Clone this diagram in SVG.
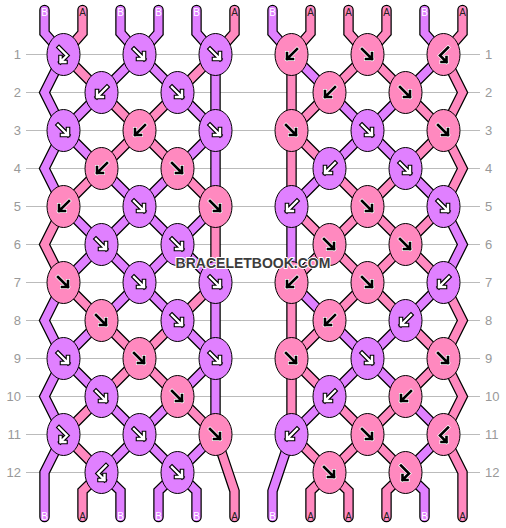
<svg xmlns="http://www.w3.org/2000/svg" xmlns:xlink="http://www.w3.org/1999/xlink" width="506" height="528" viewBox="0 0 506 528">
<style>
.guide{stroke:#bbb;stroke-width:1}
.rl{font-family:"Liberation Sans",Arial,sans-serif;font-size:13px;fill:#999}
.rll{text-anchor:end}
.ol{fill:none;stroke:#000;stroke-width:10.5;stroke-linecap:round;stroke-linejoin:miter}
.cB{fill:none;stroke:#E080FF;stroke-width:8;stroke-linecap:round;stroke-linejoin:miter}
.cA{fill:none;stroke:#FF89BF;stroke-width:8;stroke-linecap:round;stroke-linejoin:miter}
.kB{fill:#E080FF;stroke:#000;stroke-width:1}
.kA{fill:#FF89BF;stroke:#000;stroke-width:1}
.ao-b{fill:none;stroke:#000;stroke-width:4.6;stroke-linecap:square;stroke-linejoin:miter}
.ai-w{fill:none;stroke:#fff;stroke-width:2.4;stroke-linecap:square;stroke-linejoin:miter}
.ao-w{fill:none;stroke:#fff;stroke-width:4;stroke-linecap:square;stroke-linejoin:miter}
.ai-b{fill:none;stroke:#000;stroke-width:2.6;stroke-linecap:square;stroke-linejoin:miter}
.tl{font-family:"Liberation Sans",Arial,sans-serif;font-size:10px;text-anchor:middle}
.tlB{fill:#fff}
.tlA{fill:#222}
.wm{font-family:"Liberation Sans",Arial,sans-serif;font-size:14px;font-weight:bold;text-anchor:middle;fill:#3c3c3c;stroke:#fff;stroke-width:2;paint-order:stroke;stroke-linejoin:round}
</style>
<defs>
<path id="p-se" d="M-5.5,-5.5 L4.5,4.5 M4.5,-1.5 L4.5,4.5 L-1.5,4.5"/>
<path id="p-sw" d="M5.5,-5.5 L-4.5,4.5 M-4.5,-1.5 L-4.5,4.5 L1.5,4.5"/>
<path id="p-fb" d="M-4.5,-7 L3.5,1 L-3,7.5 M-3,2.5 L-3,7.5 L2,7.5"/>
<path id="p-bf" d="M4.5,-7 L-3.5,1 L3,7.5 M3,2.5 L3,7.5 L-2,7.5"/>
<g id="w-se"><use href="#p-se" class="ao-b"/><use href="#p-se" class="ai-w"/></g>
<g id="w-sw"><use href="#p-sw" class="ao-b"/><use href="#p-sw" class="ai-w"/></g>
<g id="w-fb"><use href="#p-fb" class="ao-b"/><use href="#p-fb" class="ai-w"/></g>
<g id="w-bf"><use href="#p-bf" class="ao-b"/><use href="#p-bf" class="ai-w"/></g>
<g id="b-se"><use href="#p-se" class="ao-w"/><use href="#p-se" class="ai-b"/></g>
<g id="b-sw"><use href="#p-sw" class="ao-w"/><use href="#p-sw" class="ai-b"/></g>
<g id="b-fb"><use href="#p-fb" class="ao-w"/><use href="#p-fb" class="ai-b"/></g>
<g id="b-bf"><use href="#p-bf" class="ao-w"/><use href="#p-bf" class="ai-b"/></g>
<polyline id="tL0" points="44.5,10 44.5,33 63.5,54.5 44.5,92.5 63.5,130.5 101.5,168.5 139.5,206.5 177.5,244.5 215.5,282.5 215.5,320.5 215.5,358.5 177.5,396.5 139.5,434.5 101.5,472.5 120.5,491 120.5,517"/>
<polyline id="tL1" points="82.5,10 82.5,33 63.5,54.5 101.5,92.5 139.5,130.5 177.5,168.5 215.5,206.5 215.5,244.5 215.5,282.5 177.5,320.5 139.5,358.5 101.5,396.5 63.5,434.5 101.5,472.5 82.5,491 82.5,517"/>
<polyline id="tL2" points="120.5,10 120.5,33 139.5,54.5 177.5,92.5 215.5,130.5 215.5,168.5 215.5,206.5 177.5,244.5 139.5,282.5 101.5,320.5 63.5,358.5 44.5,396.5 63.5,434.5 44.5,472.5 44.5,517"/>
<polyline id="tL3" points="158.5,10 158.5,33 139.5,54.5 101.5,92.5 63.5,130.5 44.5,168.5 63.5,206.5 101.5,244.5 139.5,282.5 177.5,320.5 215.5,358.5 215.5,396.5 215.5,434.5 177.5,472.5 158.5,491 158.5,517"/>
<polyline id="tL4" points="196.5,10 196.5,33 215.5,54.5 215.5,92.5 215.5,130.5 177.5,168.5 139.5,206.5 101.5,244.5 63.5,282.5 44.5,320.5 63.5,358.5 101.5,396.5 139.5,434.5 177.5,472.5 196.5,491 196.5,517"/>
<polyline id="tL5" points="234.5,10 234.5,33 215.5,54.5 177.5,92.5 139.5,130.5 101.5,168.5 63.5,206.5 44.5,244.5 63.5,282.5 101.5,320.5 139.5,358.5 177.5,396.5 215.5,434.5 234.5,491 234.5,517"/>
<polyline id="tR0" points="272.5,10 272.5,33 291.5,54.5 329.5,92.5 367.5,130.5 405.5,168.5 443.5,206.5 462.5,244.5 443.5,282.5 405.5,320.5 367.5,358.5 329.5,396.5 291.5,434.5 272.5,491 272.5,517"/>
<polyline id="tR1" points="310.5,10 310.5,33 291.5,54.5 291.5,92.5 291.5,130.5 329.5,168.5 367.5,206.5 405.5,244.5 443.5,282.5 462.5,320.5 443.5,358.5 405.5,396.5 367.5,434.5 329.5,472.5 310.5,491 310.5,517"/>
<polyline id="tR2" points="348.5,10 348.5,33 367.5,54.5 405.5,92.5 443.5,130.5 462.5,168.5 443.5,206.5 405.5,244.5 367.5,282.5 329.5,320.5 291.5,358.5 291.5,396.5 291.5,434.5 329.5,472.5 348.5,491 348.5,517"/>
<polyline id="tR3" points="386.5,10 386.5,33 367.5,54.5 329.5,92.5 291.5,130.5 291.5,168.5 291.5,206.5 329.5,244.5 367.5,282.5 405.5,320.5 443.5,358.5 462.5,396.5 443.5,434.5 462.5,472.5 462.5,517"/>
<polyline id="tR4" points="424.5,10 424.5,33 443.5,54.5 405.5,92.5 367.5,130.5 329.5,168.5 291.5,206.5 291.5,244.5 291.5,282.5 329.5,320.5 367.5,358.5 405.5,396.5 443.5,434.5 405.5,472.5 424.5,491 424.5,517"/>
<polyline id="tR5" points="462.5,10 462.5,33 443.5,54.5 462.5,92.5 443.5,130.5 405.5,168.5 367.5,206.5 329.5,244.5 291.5,282.5 291.5,320.5 291.5,358.5 329.5,396.5 367.5,434.5 405.5,472.5 386.5,491 386.5,517"/>
</defs>
<rect width="506" height="528" fill="#fff"/>
<g id="guides">
<line class="guide" x1="26" y1="54.5" x2="480" y2="54.5"/>
<line class="guide" x1="26" y1="92.5" x2="480" y2="92.5"/>
<line class="guide" x1="26" y1="130.5" x2="480" y2="130.5"/>
<line class="guide" x1="26" y1="168.5" x2="480" y2="168.5"/>
<line class="guide" x1="26" y1="206.5" x2="480" y2="206.5"/>
<line class="guide" x1="26" y1="244.5" x2="480" y2="244.5"/>
<line class="guide" x1="26" y1="282.5" x2="480" y2="282.5"/>
<line class="guide" x1="26" y1="320.5" x2="480" y2="320.5"/>
<line class="guide" x1="26" y1="358.5" x2="480" y2="358.5"/>
<line class="guide" x1="26" y1="396.5" x2="480" y2="396.5"/>
<line class="guide" x1="26" y1="434.5" x2="480" y2="434.5"/>
<line class="guide" x1="26" y1="472.5" x2="480" y2="472.5"/>
</g>
<g id="row-labels">
<text class="rl rll" x="21" y="59">1</text><text class="rl" x="485" y="59">1</text>
<text class="rl rll" x="21" y="97">2</text><text class="rl" x="485" y="97">2</text>
<text class="rl rll" x="21" y="135">3</text><text class="rl" x="485" y="135">3</text>
<text class="rl rll" x="21" y="173">4</text><text class="rl" x="485" y="173">4</text>
<text class="rl rll" x="21" y="211">5</text><text class="rl" x="485" y="211">5</text>
<text class="rl rll" x="21" y="249">6</text><text class="rl" x="485" y="249">6</text>
<text class="rl rll" x="21" y="287">7</text><text class="rl" x="485" y="287">7</text>
<text class="rl rll" x="21" y="325">8</text><text class="rl" x="485" y="325">8</text>
<text class="rl rll" x="21" y="363">9</text><text class="rl" x="485" y="363">9</text>
<text class="rl rll" x="21" y="401">10</text><text class="rl" x="485" y="401">10</text>
<text class="rl rll" x="21" y="439">11</text><text class="rl" x="485" y="439">11</text>
<text class="rl rll" x="21" y="477">12</text><text class="rl" x="485" y="477">12</text>
</g>
<g id="connectors">
<use href="#tL0" class="ol"/><use href="#tL1" class="ol"/><use href="#tL2" class="ol"/><use href="#tL3" class="ol"/><use href="#tL4" class="ol"/><use href="#tL5" class="ol"/>
<use href="#tR0" class="ol"/><use href="#tR1" class="ol"/><use href="#tR2" class="ol"/><use href="#tR3" class="ol"/><use href="#tR4" class="ol"/><use href="#tR5" class="ol"/>
<use href="#tL0" class="cB"/><use href="#tL1" class="cA"/><use href="#tL2" class="cB"/><use href="#tL3" class="cB"/><use href="#tL4" class="cB"/><use href="#tL5" class="cA"/>
<use href="#tR0" class="cB"/><use href="#tR1" class="cA"/><use href="#tR2" class="cA"/><use href="#tR3" class="cA"/><use href="#tR4" class="cB"/><use href="#tR5" class="cA"/>
</g>
<g id="thread-labels">
<text class="tl tlB" x="44.5" y="16">B</text><text class="tl tlA" x="82.5" y="16">A</text><text class="tl tlB" x="120.5" y="16">B</text><text class="tl tlB" x="158.5" y="16">B</text><text class="tl tlB" x="196.5" y="16">B</text><text class="tl tlA" x="234.5" y="16">A</text>
<text class="tl tlB" x="272.5" y="16">B</text><text class="tl tlA" x="310.5" y="16">A</text><text class="tl tlA" x="348.5" y="16">A</text><text class="tl tlA" x="386.5" y="16">A</text><text class="tl tlB" x="424.5" y="16">B</text><text class="tl tlA" x="462.5" y="16">A</text>
<text class="tl tlB" x="44.5" y="520">B</text><text class="tl tlA" x="82.5" y="520">A</text><text class="tl tlB" x="120.5" y="520">B</text><text class="tl tlB" x="158.5" y="520">B</text><text class="tl tlB" x="196.5" y="520">B</text><text class="tl tlA" x="234.5" y="520">A</text>
<text class="tl tlB" x="272.5" y="520">B</text><text class="tl tlA" x="310.5" y="520">A</text><text class="tl tlA" x="348.5" y="520">A</text><text class="tl tlA" x="386.5" y="520">A</text><text class="tl tlB" x="424.5" y="520">B</text><text class="tl tlA" x="462.5" y="520">A</text>
</g>
<g id="L-r1-k1"><ellipse class="kB" cx="63.5" cy="54.5" rx="16.5" ry="21"/><use href="#w-fb" x="63.5" y="54.5"/></g>
<g id="L-r1-k2"><ellipse class="kB" cx="139.5" cy="54.5" rx="16.5" ry="21"/><use href="#w-se" x="139.5" y="54.5"/></g>
<g id="L-r1-k3"><ellipse class="kB" cx="215.5" cy="54.5" rx="16.5" ry="21"/><use href="#w-se" x="215.5" y="54.5"/></g>
<g id="L-r2-k1"><ellipse class="kB" cx="101.5" cy="92.5" rx="16.5" ry="21"/><use href="#w-sw" x="101.5" y="92.5"/></g>
<g id="L-r2-k2"><ellipse class="kB" cx="177.5" cy="92.5" rx="16.5" ry="21"/><use href="#w-se" x="177.5" y="92.5"/></g>
<g id="L-r3-k1"><ellipse class="kB" cx="63.5" cy="130.5" rx="16.5" ry="21"/><use href="#w-se" x="63.5" y="130.5"/></g>
<g id="L-r3-k2"><ellipse class="kA" cx="139.5" cy="130.5" rx="16.5" ry="21"/><use href="#b-sw" x="139.5" y="130.5"/></g>
<g id="L-r3-k3"><ellipse class="kB" cx="215.5" cy="130.5" rx="16.5" ry="21"/><use href="#w-se" x="215.5" y="130.5"/></g>
<g id="L-r4-k1"><ellipse class="kA" cx="101.5" cy="168.5" rx="16.5" ry="21"/><use href="#b-sw" x="101.5" y="168.5"/></g>
<g id="L-r4-k2"><ellipse class="kA" cx="177.5" cy="168.5" rx="16.5" ry="21"/><use href="#b-se" x="177.5" y="168.5"/></g>
<g id="L-r5-k1"><ellipse class="kA" cx="63.5" cy="206.5" rx="16.5" ry="21"/><use href="#b-sw" x="63.5" y="206.5"/></g>
<g id="L-r5-k2"><ellipse class="kB" cx="139.5" cy="206.5" rx="16.5" ry="21"/><use href="#w-se" x="139.5" y="206.5"/></g>
<g id="L-r5-k3"><ellipse class="kA" cx="215.5" cy="206.5" rx="16.5" ry="21"/><use href="#b-se" x="215.5" y="206.5"/></g>
<g id="L-r6-k1"><ellipse class="kB" cx="101.5" cy="244.5" rx="16.5" ry="21"/><use href="#w-se" x="101.5" y="244.5"/></g>
<g id="L-r6-k2"><ellipse class="kB" cx="177.5" cy="244.5" rx="16.5" ry="21"/><use href="#w-se" x="177.5" y="244.5"/></g>
<g id="L-r7-k1"><ellipse class="kA" cx="63.5" cy="282.5" rx="16.5" ry="21"/><use href="#b-se" x="63.5" y="282.5"/></g>
<g id="L-r7-k2"><ellipse class="kB" cx="139.5" cy="282.5" rx="16.5" ry="21"/><use href="#w-se" x="139.5" y="282.5"/></g>
<g id="L-r7-k3"><ellipse class="kB" cx="215.5" cy="282.5" rx="16.5" ry="21"/><use href="#w-se" x="215.5" y="282.5"/></g>
<g id="L-r8-k1"><ellipse class="kA" cx="101.5" cy="320.5" rx="16.5" ry="21"/><use href="#b-se" x="101.5" y="320.5"/></g>
<g id="L-r8-k2"><ellipse class="kB" cx="177.5" cy="320.5" rx="16.5" ry="21"/><use href="#w-se" x="177.5" y="320.5"/></g>
<g id="L-r9-k1"><ellipse class="kB" cx="63.5" cy="358.5" rx="16.5" ry="21"/><use href="#w-se" x="63.5" y="358.5"/></g>
<g id="L-r9-k2"><ellipse class="kA" cx="139.5" cy="358.5" rx="16.5" ry="21"/><use href="#b-se" x="139.5" y="358.5"/></g>
<g id="L-r9-k3"><ellipse class="kB" cx="215.5" cy="358.5" rx="16.5" ry="21"/><use href="#w-se" x="215.5" y="358.5"/></g>
<g id="L-r10-k1"><ellipse class="kB" cx="101.5" cy="396.5" rx="16.5" ry="21"/><use href="#w-se" x="101.5" y="396.5"/></g>
<g id="L-r10-k2"><ellipse class="kA" cx="177.5" cy="396.5" rx="16.5" ry="21"/><use href="#b-se" x="177.5" y="396.5"/></g>
<g id="L-r11-k1"><ellipse class="kB" cx="63.5" cy="434.5" rx="16.5" ry="21"/><use href="#w-fb" x="63.5" y="434.5"/></g>
<g id="L-r11-k2"><ellipse class="kB" cx="139.5" cy="434.5" rx="16.5" ry="21"/><use href="#w-se" x="139.5" y="434.5"/></g>
<g id="L-r11-k3"><ellipse class="kA" cx="215.5" cy="434.5" rx="16.5" ry="21"/><use href="#b-se" x="215.5" y="434.5"/></g>
<g id="L-r12-k1"><ellipse class="kB" cx="101.5" cy="472.5" rx="16.5" ry="21"/><use href="#w-bf" x="101.5" y="472.5"/></g>
<g id="L-r12-k2"><ellipse class="kB" cx="177.5" cy="472.5" rx="16.5" ry="21"/><use href="#w-se" x="177.5" y="472.5"/></g>
<g id="R-r1-k1"><ellipse class="kA" cx="291.5" cy="54.5" rx="16.5" ry="21"/><use href="#b-sw" x="291.5" y="54.5"/></g>
<g id="R-r1-k2"><ellipse class="kA" cx="367.5" cy="54.5" rx="16.5" ry="21"/><use href="#b-se" x="367.5" y="54.5"/></g>
<g id="R-r1-k3"><ellipse class="kA" cx="443.5" cy="54.5" rx="16.5" ry="21"/><use href="#b-bf" x="443.5" y="54.5"/></g>
<g id="R-r2-k1"><ellipse class="kA" cx="329.5" cy="92.5" rx="16.5" ry="21"/><use href="#b-sw" x="329.5" y="92.5"/></g>
<g id="R-r2-k2"><ellipse class="kA" cx="405.5" cy="92.5" rx="16.5" ry="21"/><use href="#b-se" x="405.5" y="92.5"/></g>
<g id="R-r3-k1"><ellipse class="kA" cx="291.5" cy="130.5" rx="16.5" ry="21"/><use href="#b-se" x="291.5" y="130.5"/></g>
<g id="R-r3-k2"><ellipse class="kB" cx="367.5" cy="130.5" rx="16.5" ry="21"/><use href="#w-se" x="367.5" y="130.5"/></g>
<g id="R-r3-k3"><ellipse class="kA" cx="443.5" cy="130.5" rx="16.5" ry="21"/><use href="#b-se" x="443.5" y="130.5"/></g>
<g id="R-r4-k1"><ellipse class="kB" cx="329.5" cy="168.5" rx="16.5" ry="21"/><use href="#w-sw" x="329.5" y="168.5"/></g>
<g id="R-r4-k2"><ellipse class="kB" cx="405.5" cy="168.5" rx="16.5" ry="21"/><use href="#w-se" x="405.5" y="168.5"/></g>
<g id="R-r5-k1"><ellipse class="kB" cx="291.5" cy="206.5" rx="16.5" ry="21"/><use href="#w-sw" x="291.5" y="206.5"/></g>
<g id="R-r5-k2"><ellipse class="kA" cx="367.5" cy="206.5" rx="16.5" ry="21"/><use href="#b-se" x="367.5" y="206.5"/></g>
<g id="R-r5-k3"><ellipse class="kB" cx="443.5" cy="206.5" rx="16.5" ry="21"/><use href="#w-se" x="443.5" y="206.5"/></g>
<g id="R-r6-k1"><ellipse class="kA" cx="329.5" cy="244.5" rx="16.5" ry="21"/><use href="#b-se" x="329.5" y="244.5"/></g>
<g id="R-r6-k2"><ellipse class="kA" cx="405.5" cy="244.5" rx="16.5" ry="21"/><use href="#b-se" x="405.5" y="244.5"/></g>
<g id="R-r7-k1"><ellipse class="kA" cx="291.5" cy="282.5" rx="16.5" ry="21"/><use href="#b-sw" x="291.5" y="282.5"/></g>
<g id="R-r7-k2"><ellipse class="kA" cx="367.5" cy="282.5" rx="16.5" ry="21"/><use href="#b-se" x="367.5" y="282.5"/></g>
<g id="R-r7-k3"><ellipse class="kB" cx="443.5" cy="282.5" rx="16.5" ry="21"/><use href="#w-sw" x="443.5" y="282.5"/></g>
<g id="R-r8-k1"><ellipse class="kA" cx="329.5" cy="320.5" rx="16.5" ry="21"/><use href="#b-sw" x="329.5" y="320.5"/></g>
<g id="R-r8-k2"><ellipse class="kB" cx="405.5" cy="320.5" rx="16.5" ry="21"/><use href="#w-sw" x="405.5" y="320.5"/></g>
<g id="R-r9-k1"><ellipse class="kA" cx="291.5" cy="358.5" rx="16.5" ry="21"/><use href="#b-se" x="291.5" y="358.5"/></g>
<g id="R-r9-k2"><ellipse class="kB" cx="367.5" cy="358.5" rx="16.5" ry="21"/><use href="#w-se" x="367.5" y="358.5"/></g>
<g id="R-r9-k3"><ellipse class="kA" cx="443.5" cy="358.5" rx="16.5" ry="21"/><use href="#b-se" x="443.5" y="358.5"/></g>
<g id="R-r10-k1"><ellipse class="kB" cx="329.5" cy="396.5" rx="16.5" ry="21"/><use href="#w-sw" x="329.5" y="396.5"/></g>
<g id="R-r10-k2"><ellipse class="kA" cx="405.5" cy="396.5" rx="16.5" ry="21"/><use href="#b-sw" x="405.5" y="396.5"/></g>
<g id="R-r11-k1"><ellipse class="kB" cx="291.5" cy="434.5" rx="16.5" ry="21"/><use href="#w-sw" x="291.5" y="434.5"/></g>
<g id="R-r11-k2"><ellipse class="kA" cx="367.5" cy="434.5" rx="16.5" ry="21"/><use href="#b-se" x="367.5" y="434.5"/></g>
<g id="R-r11-k3"><ellipse class="kA" cx="443.5" cy="434.5" rx="16.5" ry="21"/><use href="#b-bf" x="443.5" y="434.5"/></g>
<g id="R-r12-k1"><ellipse class="kA" cx="329.5" cy="472.5" rx="16.5" ry="21"/><use href="#b-se" x="329.5" y="472.5"/></g>
<g id="R-r12-k2"><ellipse class="kA" cx="405.5" cy="472.5" rx="16.5" ry="21"/><use href="#b-fb" x="405.5" y="472.5"/></g>
<text class="wm" x="253" y="267.5">BRACELETBOOK.COM</text>
</svg>
